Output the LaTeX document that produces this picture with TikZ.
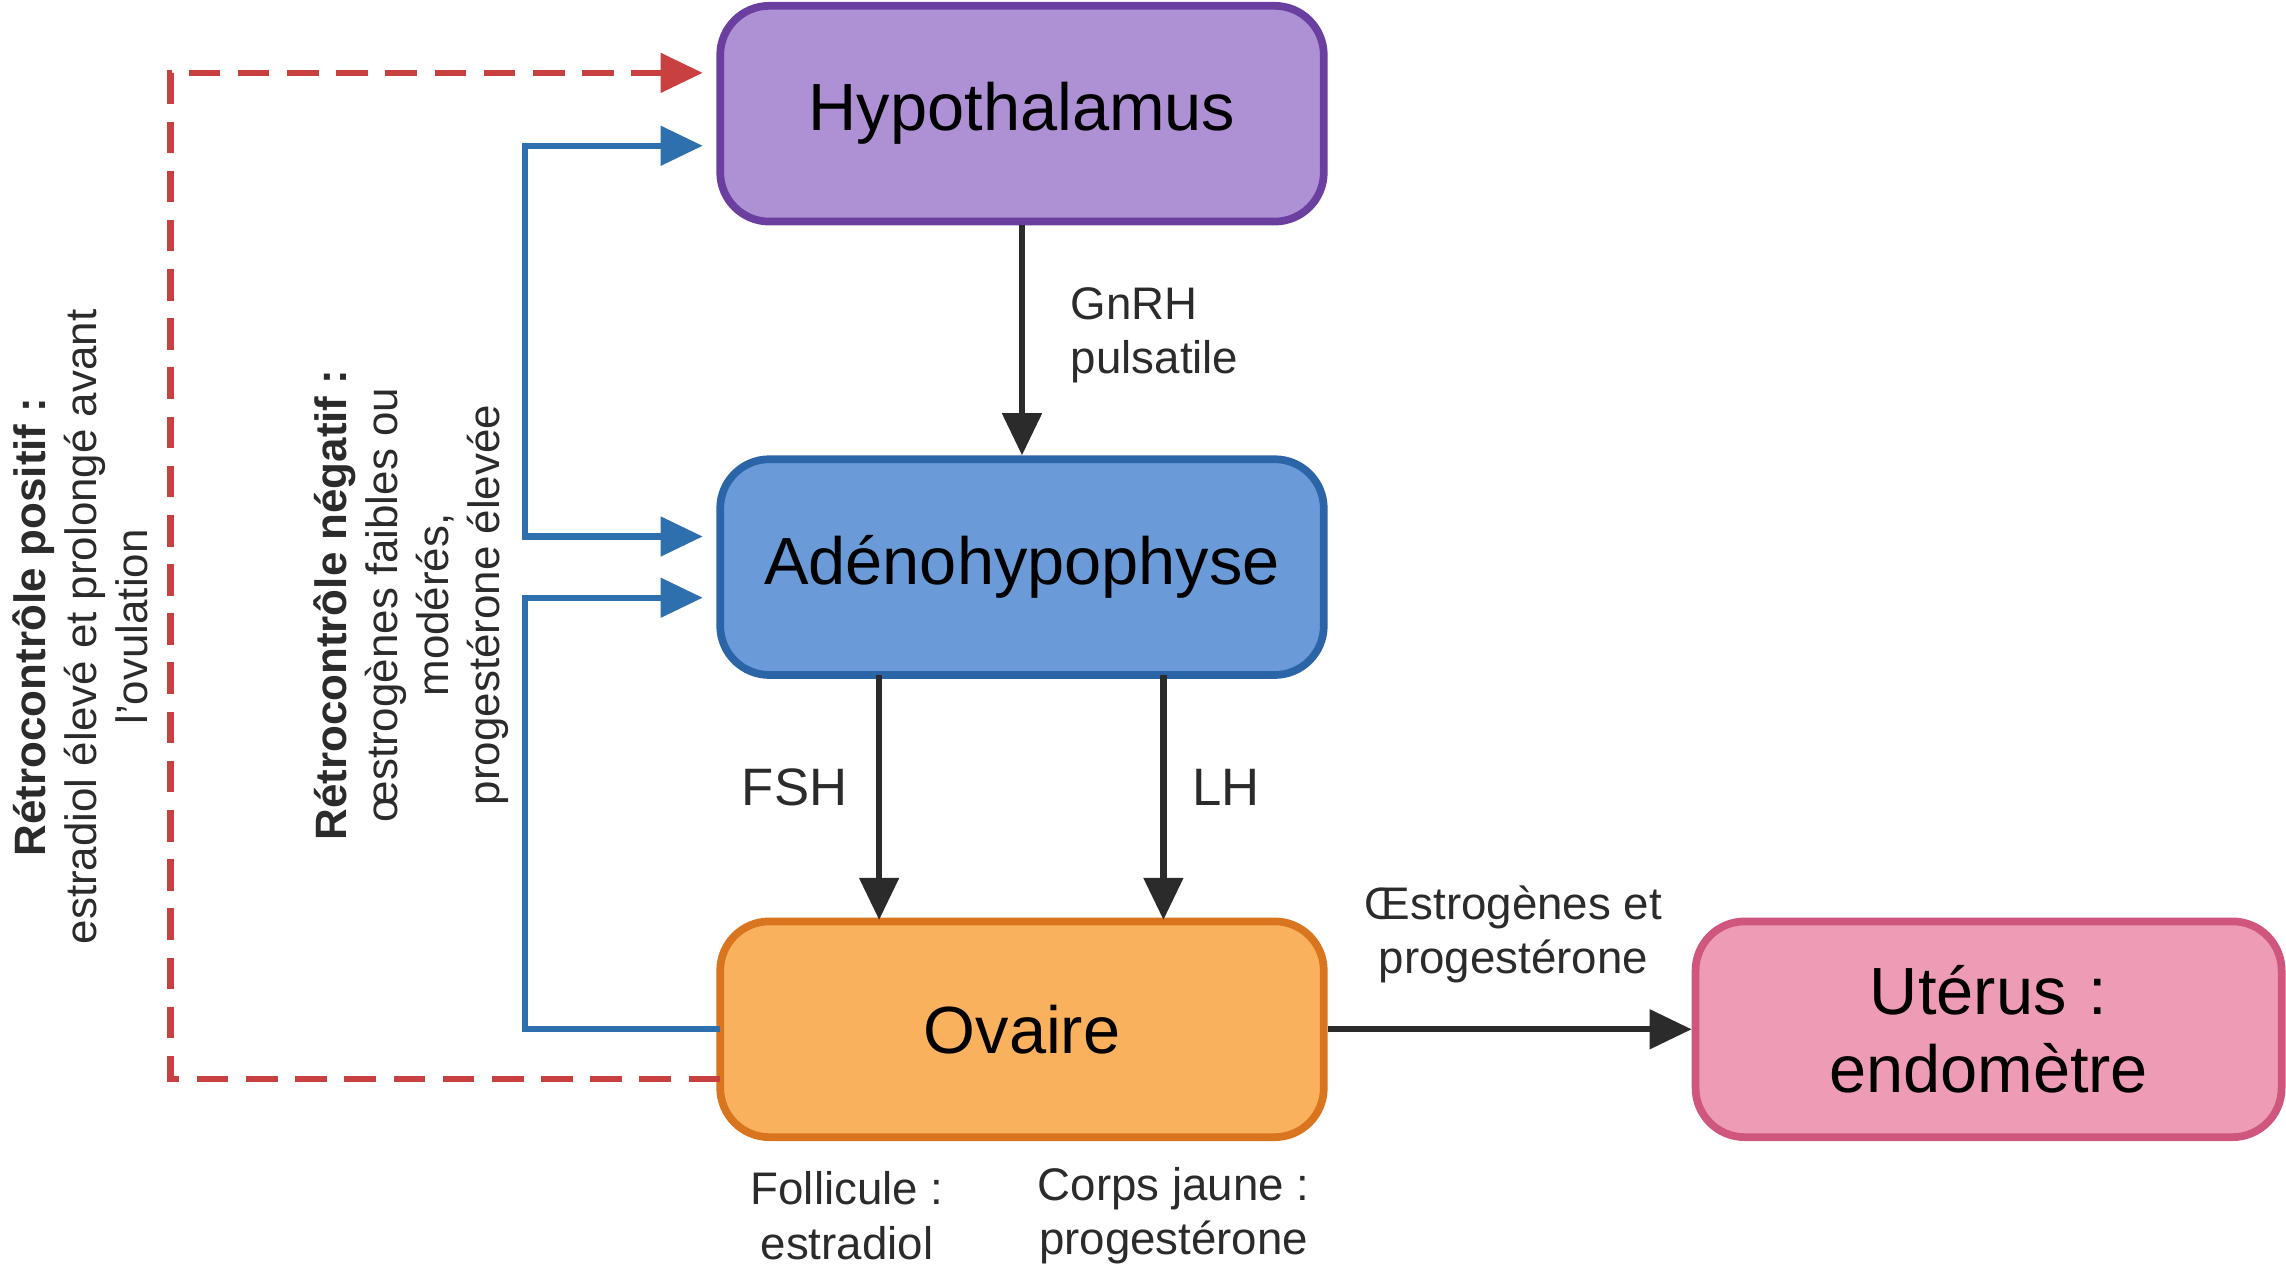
\documentclass[tikz,border=0pt]{standalone}
\usepackage{fontspec}
\setmainfont{Liberation Sans}
\usetikzlibrary{arrows.meta}
\definecolor{pf}{HTML}{AE90D4}\definecolor{pd}{HTML}{6B3FA0}
\definecolor{bf}{HTML}{6A9BD8}\definecolor{bd}{HTML}{2B65A8}
\definecolor{of}{HTML}{F9B15E}\definecolor{od}{HTML}{D9751E}
\definecolor{kf}{HTML}{EE9BB5}\definecolor{kd}{HTML}{CF567C}
\definecolor{rd}{HTML}{C94040}\definecolor{bl}{HTML}{2E6FAE}
\definecolor{dk}{HTML}{2B2B2B}
\begin{document}
\begin{tikzpicture}[x=0.01458cm,y=-0.01458cm,
 box/.style={draw,line width=2.2pt,rounded corners=14pt,minimum width=414\pgflinewidth,text width=5.6cm,align=center,font=\fontsize{19}{22}\selectfont,inner sep=0pt},
 tip/.style={-{Triangle[length=12pt,width=11pt]}},
 hor/.style={line width=1.8pt,dk,tip},
 fb/.style={line width=1.8pt,bl,tip},
 lab/.style={font=\fontsize{13}{15.5}\selectfont,text=dk},
 side/.style={font=\fontsize{12.5}{14.5}\selectfont,align=center,rotate=90,text=dk}]
\useasboundingbox (0,0) rectangle (1568,870);
\node[box,fill=pf,draw=pd,minimum width=414*0.01458cm,minimum height=148*0.01458cm] (hyp) at (701,78) {Hypothalamus};
\node[box,fill=bf,draw=bd,minimum width=414*0.01458cm,minimum height=148*0.01458cm] (ade) at (701,389) {Adénohypophyse};
\node[box,fill=of,draw=od,minimum width=414*0.01458cm,minimum height=148*0.01458cm] (ova) at (701,706) {Ovaire};
\node[box,fill=kf,draw=kd,minimum width=402*0.01458cm,minimum height=148*0.01458cm] (ute) at (1364,706) {Utérus :\\endomètre};
\draw[hor] (hyp.south) -- (ade.north);
\node[lab,align=left,anchor=west] (gn) at (726,230) {GnRH\\pulsatile};
\coordinate (f1) at (603,463); \coordinate (f2) at (603,631);
\coordinate (l1) at (798,463); \coordinate (l2) at (798,631);
\draw[hor] (f1) -- (f2); \draw[hor] (l1) -- (l2);
\node[lab,font=\fontsize{15}{18}\selectfont] (fsh) at (545,540) {FSH};
\node[lab,font=\fontsize{15}{18}\selectfont] (lh) at (841,540) {LH};
\draw[hor] (ova.east) -- (ute.west);
\node[lab,align=center] (oe) at (1038,641) {Œstrogènes et\\progestérone};
\node[lab,align=center] (fo) at (581,834) {Follicule :\\estradiol};
\node[lab,align=center] (cj) at (805,834) {Corps jaune :\\progestérone};
\coordinate (a1) at (494,706); \coordinate (a2) at (482,410);
\draw[fb] (a1) -- (360,706) -- (360,410) -- (a2);
\coordinate (b1) at (482,100); \coordinate (b2) at (482,368); \coordinate (b0) at (360,234);
\draw[fb] (b0) -- (360,100) -- (b1);
\draw[fb] (b0) -- (360,368) -- (b2);
\coordinate (r1) at (494,740); \coordinate (r2) at (482,50);
\draw[line width=1.8pt,rd,dashed,dash pattern=on 9pt off 5pt,-{Triangle[length=12pt,width=11pt]}] (r1) -- (117,740) -- (117,50) -- (r2);
\node[side] (pos) at (55,430) {\textbf{Rétrocontrôle positif :}\\estradiol élevé et prolongé avant\\l’ovulation};
\node[side] (neg) at (282,415) {\textbf{Rétrocontrôle négatif :}\\œstrogènes faibles ou\\modérés,\\progestérone élevée};
\end{tikzpicture}
\end{document}
